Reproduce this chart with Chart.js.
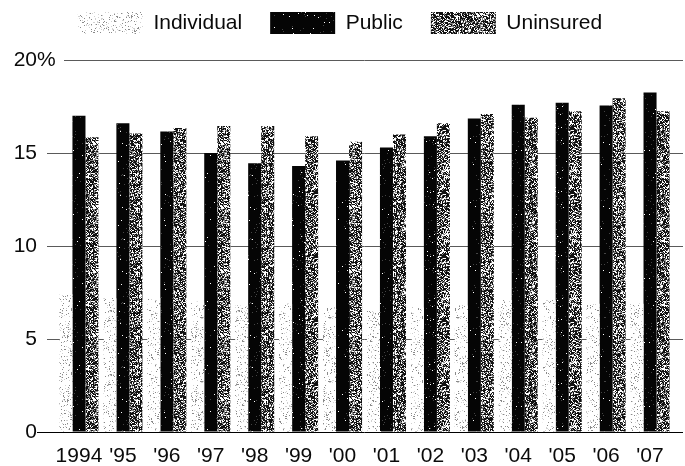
<!DOCTYPE html>
<html><head><meta charset="utf-8">
<script src="https://cdn.jsdelivr.net/npm/chart.js@4.4.0/dist/chart.umd.min.js"></script>
<style>html,body{margin:0;padding:0;background:#fff}canvas{display:block}</style>
</head><body>
<canvas id="c" width="685" height="466"></canvas>
<script>
const categories = ['1994', "'95", "'96", "'97", "'98", "'99", "'00", "'01", "'02", "'03", "'04", "'05", "'06", "'07"];
const individual = [7.4, 7.2, 7.2, 7.0, 6.8, 6.9, 6.7, 6.5, 6.7, 6.8, 7.1, 7.1, 6.9, 6.9];
const publicCov  = [17.0, 16.6, 16.15, 15.0, 14.45, 14.3, 14.6, 15.3, 15.9, 16.85, 17.6, 17.7, 17.55, 18.25];
const uninsured  = [15.85, 16.05, 16.35, 16.45, 16.45, 15.9, 15.6, 16.0, 16.6, 17.1, 16.9, 17.25, 17.95, 17.25];
const yTicks = [0, 5, 10, 15, 20];

const canvas = document.getElementById('c');
const ctx0 = canvas.getContext('2d');

function makePattern(levels, seed, size) {
  const c = document.createElement('canvas');
  c.width = c.height = size;
  const x = c.getContext('2d');
  let s = seed;
  const rnd = () => { s = (s * 1103515245 + 12345) & 0x7fffffff; return s / 0x7fffffff; };
  for (let i = 0; i < size; i++) {
    for (let j = 0; j < size; j++) {
      const r = rnd();
      let acc = 0, col = levels[levels.length - 1][1];
      for (const [p, cl] of levels) { acc += p; if (r < acc) { col = cl; break; } }
      x.fillStyle = col;
      x.fillRect(i, j, 1, 1);
    }
  }
  return ctx0.createPattern(c, 'repeat');
}

const patIndividual = makePattern([[0.07, '#8a8a8a'], [0.06, '#d2d2d2'], [0.87, '#ffffff']], 7, 64);
const patPublic = makePattern([[0.008, '#ffffff'], [0.02, '#444444'], [0.972, '#050505']], 11, 64);
const patUninsured = makePattern([[0.5, '#111111'], [0.22, '#888888'], [0.28, '#ffffff']], 23, 64);

const FONT = "'Liberation Sans', Arial, Helvetica, sans-serif";
const TXT = '#0a0a0a';
const GRID = '#5a5a5a';

const extras = {
  id: 'extras',
  afterLayout(chart) {
    const lg = chart.legend;
    if (lg) { lg.top -= 16; lg.bottom -= 16; lg.left += 4; lg.right += 4; }
  },
  afterDraw(chart) {
    const { ctx, chartArea, scales: { y } } = chart;
    ctx.save();
    yTicks.forEach(v => {
      const py = Math.round(y.getPixelForValue(v)) + 0.5;
      ctx.strokeStyle = v === 0 ? '#000' : GRID;
      ctx.lineWidth = 1;
      ctx.beginPath();
      ctx.moveTo(chartArea.right, py);
      ctx.lineTo(683, py);
      ctx.stroke();
      if (v === 0) {
        ctx.beginPath();
        ctx.moveTo(37, py);
        ctx.lineTo(chartArea.left, py);
        ctx.stroke();
      }
    });
    const p20 = y.getPixelForValue(20);
    ctx.fillStyle = '#fff';
    ctx.fillRect(37, p20 - 3, 27, 6);
    ctx.fillStyle = TXT;
    ctx.font = '21px ' + FONT;
    ctx.textAlign = 'left';
    ctx.textBaseline = 'middle';
    ctx.fillText('%', 37, p20);
    ctx.restore();
  }
};

new Chart(canvas, {
  type: 'bar',
  data: {
    labels: categories,
    datasets: [
      { label: 'Individual', data: individual, backgroundColor: patIndividual, borderWidth: 0 },
      { label: 'Public', data: publicCov, backgroundColor: patPublic, borderWidth: 0 },
      { label: 'Uninsured', data: uninsured, backgroundColor: patUninsured, borderWidth: 0 }
    ]
  },
  options: {
    responsive: false,
    animation: false,
    devicePixelRatio: 1,
    layout: { padding: { left: 0, right: 13, top: 0, bottom: 0 } },
    datasets: { bar: { categoryPercentage: 0.89, barPercentage: 1.0 } },
    plugins: {
      tooltip: { enabled: false },
      legend: {
        position: 'top',
        labels: {
          font: { family: FONT, size: 21 },
          color: TXT,
          boxWidth: 65,
          boxHeight: 22,
          padding: 28
        }
      }
    },
    scales: {
      x: {
        grid: { display: false, drawTicks: false },
        border: { display: false },
        ticks: { font: { family: FONT, size: 21 }, color: TXT, padding: 12, maxRotation: 0, autoSkip: false },
        afterFit(s) { s.height = 34; }
      },
      y: {
        min: 0, max: 20,
        afterBuildTicks(s) { s.ticks = yTicks.map(v => ({ value: v })); },
        grid: {
          color: c => (c.tick && c.tick.value === 0) ? '#000' : GRID,
          lineWidth: 1,
          drawTicks: true,
          tickLength: 10
        },
        border: { display: false },
        ticks: { font: { family: FONT, size: 21 }, color: TXT, padding: 10, callback: v => String(v) },
        afterFit(s) { s.width = 57; }
      }
    }
  },
  plugins: [extras]
});
</script>
</body></html>
